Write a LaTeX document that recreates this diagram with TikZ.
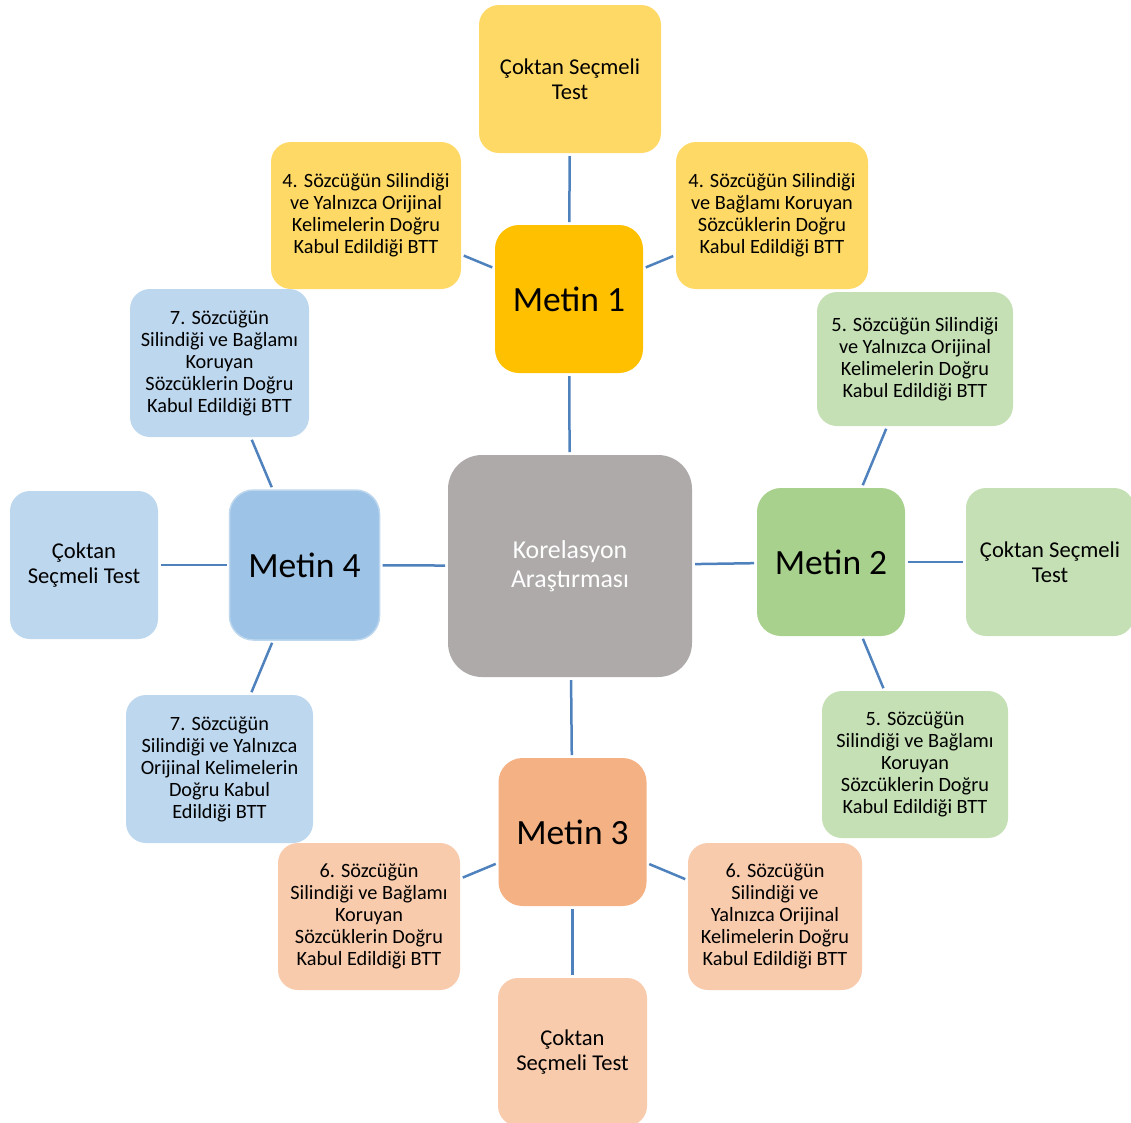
\documentclass[tikz,border=0pt]{standalone}
\usepackage{fontspec}
\setmainfont{Carlito}
\usetikzlibrary{positioning}
\definecolor{linkBlue}{HTML}{4F81BD}
\definecolor{coreGray}{HTML}{AEAAAA}
\definecolor{goldDark}{HTML}{FFC000}
\definecolor{goldLight}{HTML}{FFD966}
\definecolor{greenDark}{HTML}{A9D18E}
\definecolor{greenLight}{HTML}{C5E0B4}
\definecolor{peachDark}{HTML}{F4B183}
\definecolor{peachLight}{HTML}{F8CBAD}
\definecolor{blueDark}{HTML}{9DC3E6}
\definecolor{blueLight}{HTML}{BDD7EE}

\begin{document}
\begin{tikzpicture}[x=1pt,y=-1pt,
  box/.style={rectangle,rounded corners=20pt,inner sep=0pt,outer sep=0pt,align=center},
  metin/.style={box,minimum width=148pt,minimum height=148pt,rounded corners=24pt,
    font=\fontsize{35.5}{42}\selectfont},
  testbox/.style={box,minimum height=148pt,font=\fontsize{22.6}{24.8}\selectfont},
  bttbox/.style={box,minimum height=147pt,font=\fontsize{20.3}{22}\selectfont},
  link/.style={draw=linkBlue,line width=2.5pt,shorten <=3pt,shorten >=3pt}]
\useasboundingbox (0,0) rectangle (1131,1122);

% center
\node[box,fill=coreGray,text=white,minimum width=244pt,minimum height=222pt,rounded corners=34pt,
  font=\fontsize{25.8}{28.5}\selectfont] (K) at (570,566) {Korelasyon\\Araştırması};

% Metin 1
\node[metin,fill=goldDark] (M1) at (569,299) {Metin 1};
\node[testbox,fill=goldLight,minimum width=182pt] (T1) at (570,79) {Çoktan Seçmeli\\Test};
\node[bttbox,fill=goldLight,minimum width=190pt] (B4a) at (366,215.5)
  {4. Sözcüğün Silindiği\\ve Yalnızca Orijinal\\Kelimelerin Doğru\\Kabul Edildiği BTT};
\node[bttbox,fill=goldLight,minimum width=192pt] (B4b) at (772,215.5)
  {4. Sözcüğün Silindiği\\ve Bağlamı Koruyan\\Sözcüklerin Doğru\\Kabul Edildiği BTT};

% Metin 2
\node[metin,fill=greenDark] (M2) at (831,562) {Metin 2};
\node[testbox,fill=greenLight,minimum width=168pt] (T2) at (1050,562) {Çoktan Seçmeli\\Test};
\node[bttbox,fill=greenLight,minimum width=196pt,minimum height=134pt] (B5a) at (915,359)
  {5. Sözcüğün Silindiği\\ve Yalnızca Orijinal\\Kelimelerin Doğru\\Kabul Edildiği BTT};
\node[bttbox,fill=greenLight,minimum width=186pt] (B5b) at (915,764.5)
  {5. Sözcüğün\\Silindiği ve Bağlamı\\Koruyan\\Sözcüklerin Doğru\\Kabul Edildiği BTT};

% Metin 3
\node[metin,fill=peachDark] (M3) at (572.5,832) {Metin 3};
\node[testbox,fill=peachLight,minimum width=149pt] (T3) at (572.5,1052) {Çoktan\\Seçmeli Test};
\node[bttbox,fill=peachLight,minimum width=182pt] (B6a) at (369,916.5)
  {6. Sözcüğün\\Silindiği ve Bağlamı\\Koruyan\\Sözcüklerin Doğru\\Kabul Edildiği BTT};
\node[bttbox,fill=peachLight,minimum width=174pt] (B6b) at (775,916.5)
  {6. Sözcüğün\\Silindiği ve\\Yalnızca Orijinal\\Kelimelerin Doğru\\Kabul Edildiği BTT};

% Metin 4
\node[metin,fill=blueDark,draw=blueLight,line width=1.5pt,minimum width=150pt,minimum height=150pt]
  (M4) at (304.5,565) {Metin 4};
\node[testbox,fill=blueLight,minimum width=148pt] (T4) at (84,565) {Çoktan\\Seçmeli Test};
\node[bttbox,fill=blueLight,minimum width=179pt,minimum height=148pt] (B7a) at (219.5,363)
  {7. Sözcüğün\\Silindiği ve Bağlamı\\Koruyan\\Sözcüklerin Doğru\\Kabul Edildiği BTT};
\node[bttbox,fill=blueLight,minimum width=187pt,minimum height=148pt] (B7b) at (219.5,769)
  {7. Sözcüğün\\Silindiği ve Yalnızca\\Orijinal Kelimelerin\\Doğru Kabul\\Edildiği BTT};

% connectors
\foreach \a/\b in {K/M1,K/M2,K/M3,K/M4,M1/T1,M1/B4a,M1/B4b,M2/T2,M2/B5a,M2/B5b,
  M3/T3,M3/B6a,M3/B6b,M4/T4,M4/B7a,M4/B7b}
  \draw[link] (\a) -- (\b);
\end{tikzpicture}
\end{document}
